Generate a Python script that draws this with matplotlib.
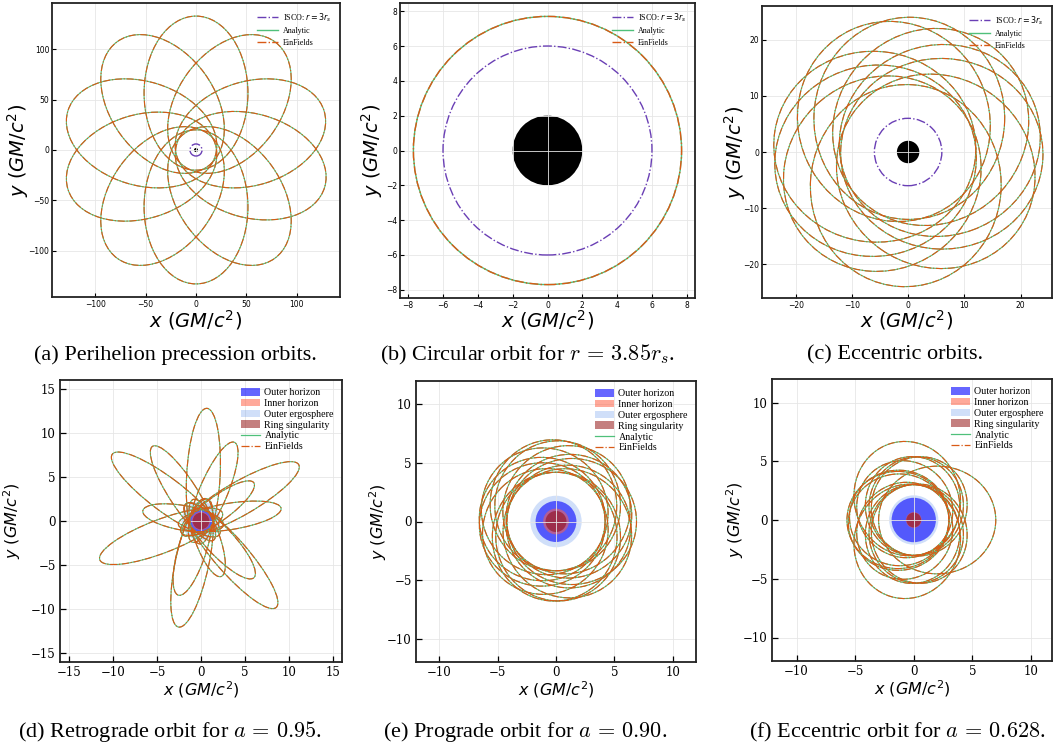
import numpy as np
import matplotlib
matplotlib.use('Agg')
import matplotlib.pyplot as plt
from matplotlib.patches import Ellipse, Circle, Patch
from matplotlib.lines import Line2D

# colours
GREEN = '#4fc07a'
ORANGE = '#d95a16'
PURPLE = '#6a3fb5'

# (a) perihelion precession: periapsis / apoapsis and apoapsis directions (deg)
a_peri = 20.0
a_apo = 133.0
a_angles = [90, 54, 17, -16, -54, -90, -126, -163, 163, 126]

# (b) circular orbit radius, ISCO, horizon
b_radius = 7.7
isco_r = 6.0
horizon_r = 2.0

# (c) eccentric orbits
c_peri = 12.0
c_apo = 24.0
c_angles = [171, 115, 88, 48, 20, -3, -35, -94, -140, 195]

# (d) retrograde petals: tip distance, direction, half width
d_tip = [12.8, 9.7, 12.8, 9.2, 7.4, 12.6, 10.1, 12.3, 6.7, 12.3, 8.8, 8.8, 13.0, 6.7]
d_angles = [87, 67, 30, 9, 36, 143, 123, 201, 170, 258, 253, 313, 311, 290]
d_width = [1.9, 1.6, 1.9, 1.5, 1.4, 1.9, 1.6, 1.9, 1.4, 1.9, 1.6, 1.6, 1.9, 1.4]
d_inner = 2.6
d_kerr = [2.2, 1.45, 1.05, 0.95]   # ergosphere, outer, inner, ring

# (e) prograde orbit
e_peri = 4.2
e_apo = [6.9, 6.9, 7.0, 6.6, 6.6, 6.8, 6.8, 6.6, 6.5, 6.8, 6.7, 6.9, 7.0]
e_angles = [0, 84, 99, 170, 192, 265, 278, 22, -22, 138, 223, 48, -46]
e_kerr = [2.2, 1.75, 1.1, 0.9]

# (f) eccentric Kerr orbit
f_peri = 3.0
f_apo = [7.0, 6.8, 6.8, 5.7, 5.5, 5.6, 5.4, 5.4, 5.5, 5.4, 5.4, 5.5, 5.4, 5.4]
f_angles = [0, 107, -107, 180, 172, 188, 95, 80, 68, -95, -80, -68, 130, -130]
f_kerr = [2.1, 1.89, 0.67, 0.63]

captions_top = ['(a) Perihelion precession orbits.',
                r'(b) Circular orbit for $r\,=\,3.85r_s$.',
                '(c) Eccentric orbits.']
captions_bot = [r'(d) Retrograde orbit for $a\,=\,0.95$.',
                r'(e) Prograde orbit for $a\,=\,0.90$.',
                r'(f) Eccentric orbit for $a\,=\,0.628$.']


def add_orbit(ax, rp, ra, ang, lw=0.9):
    semi = (rp + ra) / 2
    off = (ra - rp) / 2
    b = np.sqrt(rp * ra)
    th = np.deg2rad(ang)
    cen = (off * np.cos(th), off * np.sin(th))
    ax.add_patch(Ellipse(cen, 2 * semi, 2 * b, angle=ang, fill=False,
                         ec=GREEN, lw=lw, zorder=2))
    ax.add_patch(Ellipse(cen, 2 * semi, 2 * b, angle=ang, fill=False,
                         ec=ORANGE, lw=lw, ls='-.', zorder=3))


def add_petal(ax, tip, ang, half, inner, lw=0.9):
    semi = (tip + inner) / 2
    off = (tip - inner) / 2
    th = np.deg2rad(ang)
    cen = (off * np.cos(th), off * np.sin(th))
    ax.add_patch(Ellipse(cen, 2 * semi, 2 * half, angle=ang, fill=False,
                         ec=GREEN, lw=lw, zorder=2))
    ax.add_patch(Ellipse(cen, 2 * semi, 2 * half, angle=ang, fill=False,
                         ec=ORANGE, lw=lw, ls='-.', zorder=3))


def add_kerr(ax, radii):
    ax.add_patch(Circle((0, 0), radii[0], color='cornflowerblue', alpha=0.3, lw=0, zorder=1))
    ax.add_patch(Circle((0, 0), radii[1], color='blue', alpha=0.6, lw=0, zorder=1))
    ax.add_patch(Circle((0, 0), radii[2], color='tomato', alpha=0.55, lw=0, zorder=1))
    ax.add_patch(Circle((0, 0), radii[3], color='darkred', alpha=0.5, lw=0, zorder=1))


def schw_bh(ax):
    ax.add_patch(Circle((0, 0), horizon_r, color='black', lw=0, zorder=1))
    ax.add_patch(Circle((0, 0), isco_r, fill=False, ec=PURPLE, lw=1.0, ls='-.', zorder=3))


def style(ax, lim_x, lim_y, ticks, top=True, xl=(0.5, -0.078), yl=(-0.11, 0.5)):
    ax.set_xlim(*lim_x)
    ax.set_ylim(*lim_y)
    ax.set_xticks(ticks)
    ax.set_yticks(ticks)
    ax.grid(True, color='#e6e6e6', lw=0.6)
    for s in ax.spines.values():
        s.set_linewidth(1.3)
        s.set_color('#222222')
    if top:
        ax.tick_params(direction='in', length=3, width=0.8, labelsize=5.5, pad=2)
        for t in ax.get_xticklabels() + ax.get_yticklabels():
            t.set_fontfamily('DejaVu Sans')
        fs = 14
    else:
        ax.tick_params(direction='in', length=4, width=0.9, labelsize=8.5, pad=3)
        for t in ax.get_xticklabels() + ax.get_yticklabels():
            t.set_fontfamily('DejaVu Serif')
        fs = 11.5
    ax.set_xlabel(r'$x$ $(GM/c^2)$', fontsize=fs, va='center', ha='center')
    ax.set_ylabel(r'$y$ $(GM/c^2)$', fontsize=fs, va='center', ha='center')
    ax.xaxis.set_label_coords(*xl)
    ax.yaxis.set_label_coords(*yl)


def legend_top(ax):
    h = [Line2D([], [], color=PURPLE, ls='-.', lw=1.0),
         Line2D([], [], color=GREEN, lw=1.0),
         Line2D([], [], color=ORANGE, ls='-.', lw=1.0)]
    ax.legend(h, [r'ISCO: $r=3r_s$', 'Analytic', 'EinFields'], loc='upper right',
              frameon=False, prop={'family': 'Liberation Serif', 'size': 5.8},
              handlelength=2.6, handletextpad=0.6, labelspacing=0.45, borderaxespad=0.6)


def legend_bot(ax):
    h = [Patch(color='blue', alpha=0.6, lw=0),
         Patch(color='tomato', alpha=0.55, lw=0),
         Patch(color='cornflowerblue', alpha=0.3, lw=0),
         Patch(color='darkred', alpha=0.5, lw=0),
         Line2D([], [], color=GREEN, lw=0.9),
         Line2D([], [], color=ORANGE, ls='-.', lw=0.9)]
    ax.legend(h, ['Outer horizon', 'Inner horizon', 'Outer ergosphere',
                  'Ring singularity', 'Analytic', 'EinFields'], loc='upper right',
              frameon=False, prop={'family': 'Liberation Serif', 'size': 7.2},
              handlelength=1.9, handleheight=0.8, handletextpad=0.5,
              labelspacing=0.15, borderaxespad=0.4)


fig = plt.figure(figsize=(10.53, 7.48), dpi=100)
W, H = 1053.0, 748.0


def make_ax(l, r, t, b):
    return fig.add_axes([l / W, 1 - b / H, (r - l) / W, (b - t) / H])


# top row
ax = make_ax(52, 340, 3, 297)
for ang in a_angles:
    add_orbit(ax, a_peri, a_apo, ang, lw=0.8)
schw_bh(ax)
style(ax, (-143, 143), (-146, 146), [-100, -50, 0, 50, 100], xl=(0.5, -0.078), yl=(-0.118, 0.5))
legend_top(ax)

ax = make_ax(400, 695, 3, 298)
ax.add_patch(Circle((0, 0), b_radius, fill=False, ec=GREEN, lw=1.0, zorder=2))
ax.add_patch(Circle((0, 0), b_radius, fill=False, ec=ORANGE, lw=1.0, ls='-.', zorder=3))
schw_bh(ax)
style(ax, (-8.47, 8.47), (-8.47, 8.47), [-8, -6, -4, -2, 0, 2, 4, 6, 8], xl=(0.5, -0.075), yl=(-0.095, 0.5))
legend_top(ax)

ax = make_ax(762, 1052, 6, 298)
for ang in c_angles:
    add_orbit(ax, c_peri, c_apo, ang, lw=0.8)
schw_bh(ax)
style(ax, (-26, 25.6), (-26, 26), [-20, -10, 0, 10, 20], xl=(0.5, -0.075), yl=(-0.094, 0.5))
legend_top(ax)

# bottom row
ax = make_ax(60, 342, 380, 662)
add_kerr(ax, d_kerr)
for tip, ang, half in zip(d_tip, d_angles, d_width):
    add_petal(ax, tip, ang, half, d_inner, lw=0.8)
style(ax, (-16, 16), (-16, 16), [-15, -10, -5, 0, 5, 10, 15], top=False, xl=(0.5, -0.099), yl=(-0.17, 0.5))
legend_bot(ax)

ax = make_ax(416, 696, 381, 662)
add_kerr(ax, e_kerr)
for ra, ang in zip(e_apo, e_angles):
    add_orbit(ax, e_peri, ra, ang, lw=0.8)
style(ax, (-12, 12), (-12, 12), [-10, -5, 0, 5, 10], top=False, xl=(0.5, -0.1), yl=(-0.136, 0.5))
legend_bot(ax)

ax = make_ax(772, 1052, 379, 661)
add_kerr(ax, f_kerr)
for ra, ang in zip(f_apo, f_angles):
    add_orbit(ax, f_peri, ra, ang, lw=0.8)
style(ax, (-12.1, 11.8), (-12, 12), [-10, -5, 0, 5, 10], top=False, xl=(0.5, -0.097), yl=(-0.132, 0.5))
legend_bot(ax)

xs = [175, 527, 895]
for x, c in zip(xs, captions_top):
    fig.text(x / W, 1 - 355 / H, c, ha='center', va='center', fontsize=16,
             fontfamily='Liberation Serif', math_fontfamily='cm')
xs = [170, 525, 897]
for x, c in zip(xs, captions_bot):
    fig.text(x / W, 1 - 732 / H, c, ha='center', va='center', fontsize=16,
             fontfamily='Liberation Serif', math_fontfamily='cm')

fig.savefig('out.png', dpi=100)
